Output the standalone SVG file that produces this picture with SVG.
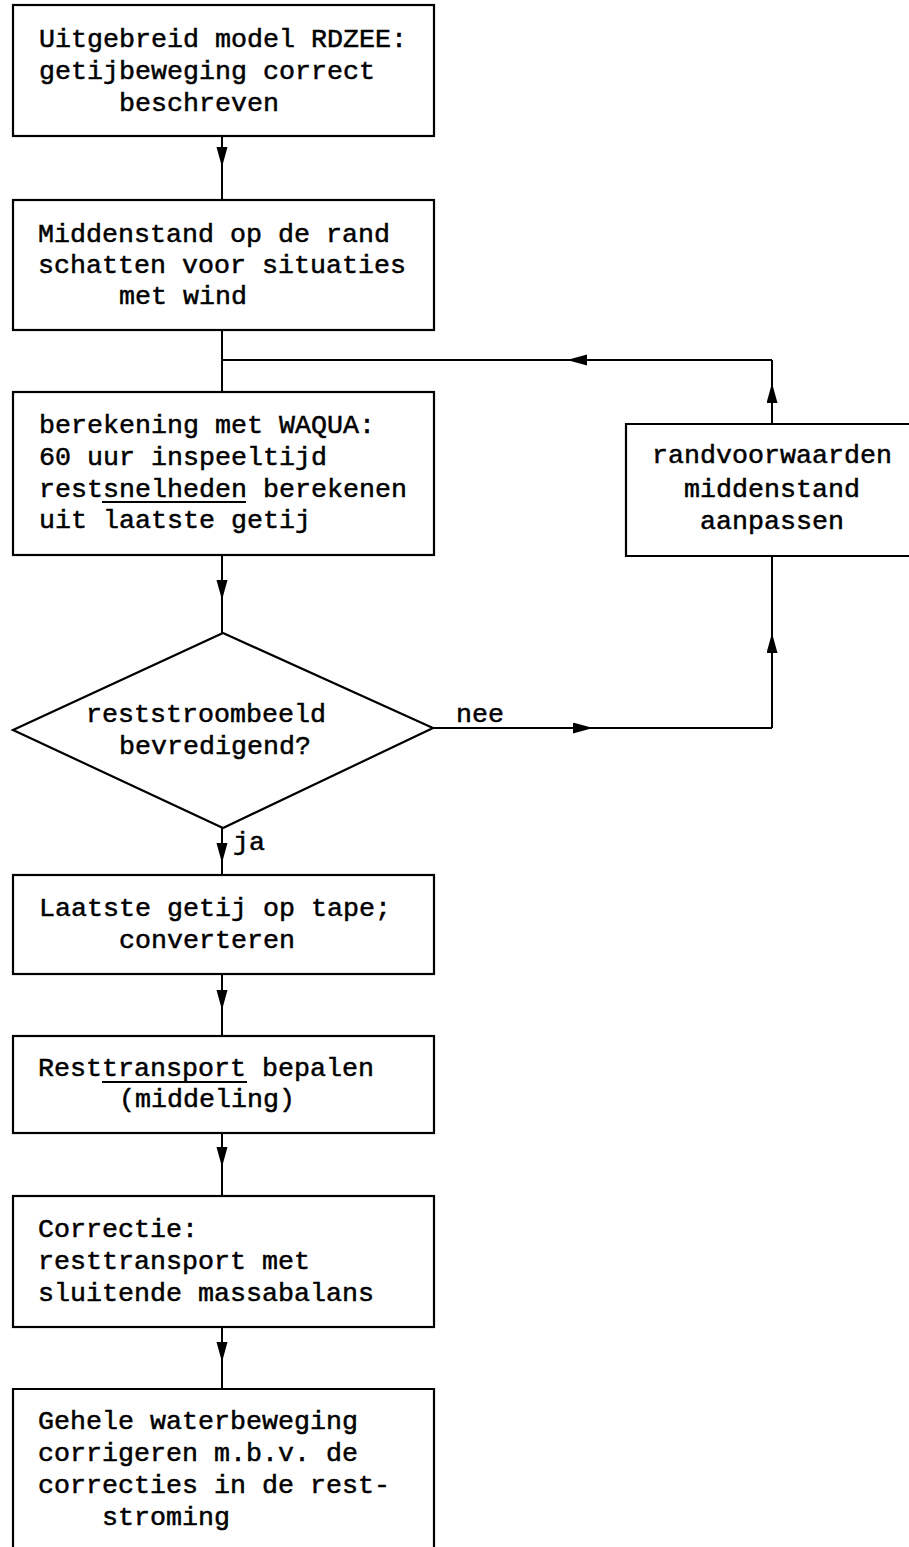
<svg xmlns="http://www.w3.org/2000/svg" width="909" height="1547" viewBox="0 0 909 1547">
<style>
.bx{fill:none;stroke:#000;stroke-width:2.2}
.ln{fill:none;stroke:#000;stroke-width:2}
.t{font-family:"Liberation Mono","Courier New",monospace;font-size:26.67px;fill:#000;stroke:#000;stroke-width:0.5}
.m{text-anchor:middle}
</style>
<defs>
<marker id="ah" markerUnits="userSpaceOnUse" markerWidth="22" markerHeight="12" refX="20" refY="5.5" orient="auto">
<path d="M0,0 L20,5.5 L0,11 Z" fill="#000"/>
</marker>
</defs>
<rect width="909" height="1547" fill="#fff"/>
<g id="connectors">
<path class="ln" d="M222,136 L222,167 L222,200" marker-mid="url(#ah)"/>
<path class="ln" d="M222,330 L222,392"/>
<path class="ln" d="M772,360 L567,360 L222,360" marker-mid="url(#ah)"/>
<path class="ln" d="M772,424 L772,383 L772,360" marker-mid="url(#ah)"/>
<path class="ln" d="M222,555 L222,600 L222,633" marker-mid="url(#ah)"/>
<path class="ln" d="M433,728 L593,728 L772,728" marker-mid="url(#ah)"/>
<path class="ln" d="M772,728 L772,633 L772,556" marker-mid="url(#ah)"/>
<path class="ln" d="M222,828 L222,863 L222,875" marker-mid="url(#ah)"/>
<path class="ln" d="M222,974 L222,1010 L222,1036" marker-mid="url(#ah)"/>
<path class="ln" d="M222,1133 L222,1167 L222,1196" marker-mid="url(#ah)"/>
<path class="ln" d="M222,1327 L222,1362 L222,1389" marker-mid="url(#ah)"/>
<text class="t" x="456" y="722">nee</text>
<text class="t" x="233" y="850">ja</text>
</g>
<g id="n1">
<rect class="bx" x="13" y="5" width="421" height="131"/>
<text class="t" x="39" y="47">Uitgebreid model RDZEE:</text>
<text class="t" x="39" y="79">getijbeweging correct</text>
<text class="t" x="119" y="111">beschreven</text>
</g>
<g id="n2">
<rect class="bx" x="13" y="200" width="421" height="130"/>
<text class="t" x="38" y="242">Middenstand op de rand</text>
<text class="t" x="38" y="273">schatten voor situaties</text>
<text class="t" x="119" y="304">met wind</text>
</g>
<g id="n3">
<rect class="bx" x="13" y="392" width="421" height="163"/>
<text class="t" x="39" y="433">berekening met WAQUA:</text>
<text class="t" x="39" y="465">60 uur inspeeltijd</text>
<text class="t" x="39" y="497">restsnelheden berekenen</text>
<line class="ln" x1="102" y1="502" x2="246" y2="502"/>
<text class="t" x="39" y="528">uit laatste getij</text>
</g>
<g id="n4">
<path class="bx" d="M909,424 L626,424 L626,556 L909,556"/>
<text class="t m" x="772" y="463">randvoorwaarden</text>
<text class="t m" x="772" y="497">middenstand</text>
<text class="t m" x="772" y="529">aanpassen</text>
</g>
<g id="n5">
<polygon class="bx" points="223,633 433,728 223,828 13,730"/>
<text class="t" x="86" y="722">reststroombeeld</text>
<text class="t" x="119" y="754">bevredigend?</text>
</g>
<g id="n6">
<rect class="bx" x="13" y="875" width="421" height="99"/>
<text class="t" x="39" y="916">Laatste getij op tape;</text>
<text class="t" x="119" y="948">converteren</text>
</g>
<g id="n7">
<rect class="bx" x="13" y="1036" width="421" height="97"/>
<text class="t" x="38" y="1076">Resttransport bepalen</text>
<line class="ln" x1="102" y1="1082" x2="247" y2="1082"/>
<text class="t" x="119" y="1107">(middeling)</text>
</g>
<g id="n8">
<rect class="bx" x="13" y="1196" width="421" height="131"/>
<text class="t" x="38" y="1237">Correctie:</text>
<text class="t" x="38" y="1269">resttransport met</text>
<text class="t" x="38" y="1301">sluitende massabalans</text>
</g>
<g id="n9">
<path class="bx" d="M13,1547 L13,1389 L434,1389 L434,1547"/>
<text class="t" x="38" y="1429">Gehele waterbeweging</text>
<text class="t" x="38" y="1461">corrigeren m.b.v. de</text>
<text class="t" x="38" y="1493">correcties in de rest-</text>
<text class="t" x="102" y="1525">stroming</text>
</g>
</svg>
